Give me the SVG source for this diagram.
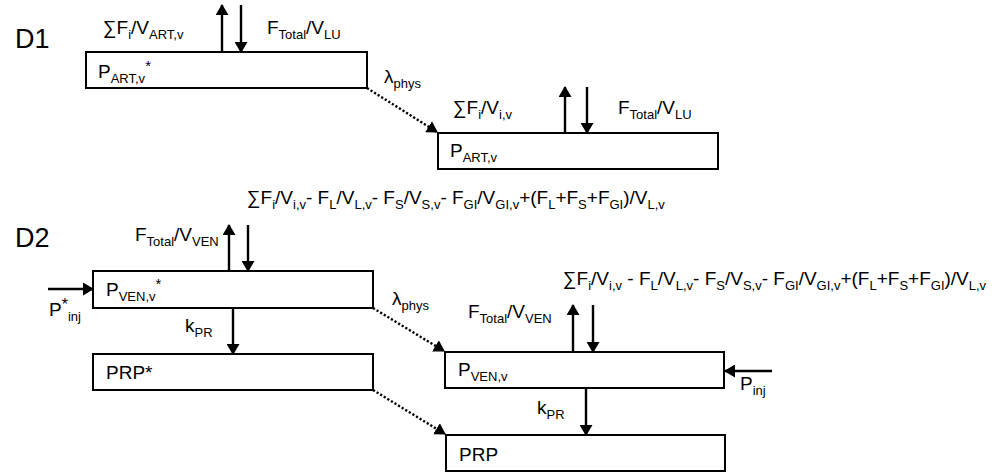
<svg xmlns="http://www.w3.org/2000/svg" width="998" height="474" viewBox="0 0 998 474">
<style>
text{font-family:"Liberation Sans",Arial,sans-serif;font-size:19px;fill:#000}
.s{font-size:13px}
.big{font-size:27px}
.box{fill:#fff;stroke:#000;stroke-width:2}
.ar{stroke:#000;stroke-width:2.4;fill:none;marker-end:url(#ah)}
.dt{stroke:#000;stroke-width:2.4;fill:none;stroke-dasharray:2.2 2;marker-end:url(#ah)}
</style>
<defs>
<marker id="ah" markerUnits="userSpaceOnUse" markerWidth="11" markerHeight="13" viewBox="0 0 11 13" refX="10" refY="6.5" orient="auto">
<path d="M0,0 L11,6.5 L0,13 z" fill="#000"/>
</marker>
</defs>

<text class="big" x="15" y="48">D1</text>
<text class="big" x="15" y="247">D2</text>

<g id="connectors">
<line class="ar" x1="222" y1="52" x2="222" y2="5"/>
<line class="ar" x1="241" y1="5" x2="241" y2="52"/>
<line class="dt" x1="367" y1="88" x2="437" y2="132"/>
<line class="ar" x1="565" y1="133" x2="565" y2="87"/>
<line class="ar" x1="587" y1="87" x2="587" y2="133"/>
<line class="ar" x1="229" y1="271" x2="229" y2="225"/>
<line class="ar" x1="248" y1="225" x2="248" y2="271"/>
<line class="ar" x1="48" y1="289" x2="93" y2="289"/>
<line class="ar" x1="233" y1="308" x2="233" y2="354"/>
<line class="dt" x1="373" y1="308" x2="444" y2="351"/>
<line class="ar" x1="573" y1="352" x2="573" y2="305"/>
<line class="ar" x1="593" y1="305" x2="593" y2="352"/>
<line class="ar" x1="772" y1="371" x2="725" y2="371"/>
<line class="ar" x1="586" y1="388" x2="586" y2="435"/>
<line class="dt" x1="373" y1="390" x2="445" y2="434"/>
</g>

<g id="labels">
<text x="103" y="34">∑F<tspan class="s" dy="5">i</tspan><tspan dy="-5">/V</tspan><tspan class="s" dy="5">ART,v</tspan></text>
<text x="267" y="34">F<tspan class="s" dy="5">Total</tspan><tspan dy="-5">/V</tspan><tspan class="s" dy="5">LU</tspan></text>
<text x="384" y="83">λ<tspan class="s" dy="5">phys</tspan></text>
<text x="453" y="114">∑F<tspan class="s" dy="5">i</tspan><tspan dy="-5">/V</tspan><tspan class="s" dy="5">i,v</tspan></text>
<text x="618" y="114">F<tspan class="s" dy="5">Total</tspan><tspan dy="-5">/V</tspan><tspan class="s" dy="5">LU</tspan></text>
<text x="247" y="204">∑F<tspan class="s" dy="5">i</tspan><tspan dy="-5">/V</tspan><tspan class="s" dy="5">i,v</tspan><tspan dy="-5">- F</tspan><tspan class="s" dy="5">L</tspan><tspan dy="-5">/V</tspan><tspan class="s" dy="5">L,v</tspan><tspan dy="-5">- F</tspan><tspan class="s" dy="5">S</tspan><tspan dy="-5">/V</tspan><tspan class="s" dy="5">S,v</tspan><tspan dy="-5">- F</tspan><tspan class="s" dy="5">GI</tspan><tspan dy="-5">/V</tspan><tspan class="s" dy="5">GI,v</tspan><tspan dy="-5">+(F</tspan><tspan class="s" dy="5">L</tspan><tspan dy="-5">+F</tspan><tspan class="s" dy="5">S</tspan><tspan dy="-5">+F</tspan><tspan class="s" dy="5">GI</tspan><tspan dy="-5">)/V</tspan><tspan class="s" dy="5">L,v</tspan></text>
<text x="135" y="241">F<tspan class="s" dy="5">Total</tspan><tspan dy="-5">/V</tspan><tspan class="s" dy="5">VEN</tspan></text>
<text x="49" y="316">P<tspan dy="-6" font-size="16">*</tspan><tspan class="s" dy="11">inj</tspan></text>
<text x="392" y="305">λ<tspan class="s" dy="5">phys</tspan></text>
<text x="185" y="332">k<tspan class="s" dy="5">PR</tspan></text>
<text x="563" y="285">∑F<tspan class="s" dy="5">i</tspan><tspan dy="-5">/V</tspan><tspan class="s" dy="5">i,v</tspan><tspan dy="-5"> - F</tspan><tspan class="s" dy="5">L</tspan><tspan dy="-5">/V</tspan><tspan class="s" dy="5">L,v</tspan><tspan dy="-5">- F</tspan><tspan class="s" dy="5">S</tspan><tspan dy="-5">/V</tspan><tspan class="s" dy="5">S,v</tspan><tspan dy="-5">- F</tspan><tspan class="s" dy="5">GI</tspan><tspan dy="-5">/V</tspan><tspan class="s" dy="5">GI,v</tspan><tspan dy="-5">+(F</tspan><tspan class="s" dy="5">L</tspan><tspan dy="-5">+F</tspan><tspan class="s" dy="5">S</tspan><tspan dy="-5">+F</tspan><tspan class="s" dy="5">GI</tspan><tspan dy="-5">)/V</tspan><tspan class="s" dy="5">L,v</tspan></text>
<text x="468" y="318">F<tspan class="s" dy="5">Total</tspan><tspan dy="-5">/V</tspan><tspan class="s" dy="5">VEN</tspan></text>
<text x="740" y="390">P<tspan class="s" dy="5">inj</tspan></text>
<text x="537" y="414">k<tspan class="s" dy="5">PR</tspan></text>
</g>

<g id="node-part-star">
<rect class="box" x="86" y="52" width="281" height="36"/>
<text x="98" y="78">P<tspan class="s" dy="5">ART,v</tspan><tspan font-size="15" dy="-12">*</tspan></text>
</g>
<g id="node-part">
<rect class="box" x="438" y="133" width="280" height="36"/>
<text x="450" y="157">P<tspan class="s" dy="5">ART,v</tspan></text>
</g>
<g id="node-pven-star">
<rect class="box" x="93" y="271" width="280" height="37"/>
<text x="106" y="296">P<tspan class="s" dy="5">VEN,v</tspan><tspan font-size="15" dy="-12">*</tspan></text>
</g>
<g id="node-prp-star">
<rect class="box" x="93" y="354" width="280" height="36"/>
<text x="106" y="379">PRP*</text>
</g>
<g id="node-pven">
<rect class="box" x="445" y="352" width="279" height="36"/>
<text x="458" y="376">P<tspan class="s" dy="5">VEN,v</tspan></text>
</g>
<g id="node-prp">
<rect class="box" x="446" y="435" width="279" height="36"/>
<text x="459" y="461">PRP</text>
</g>
</svg>
